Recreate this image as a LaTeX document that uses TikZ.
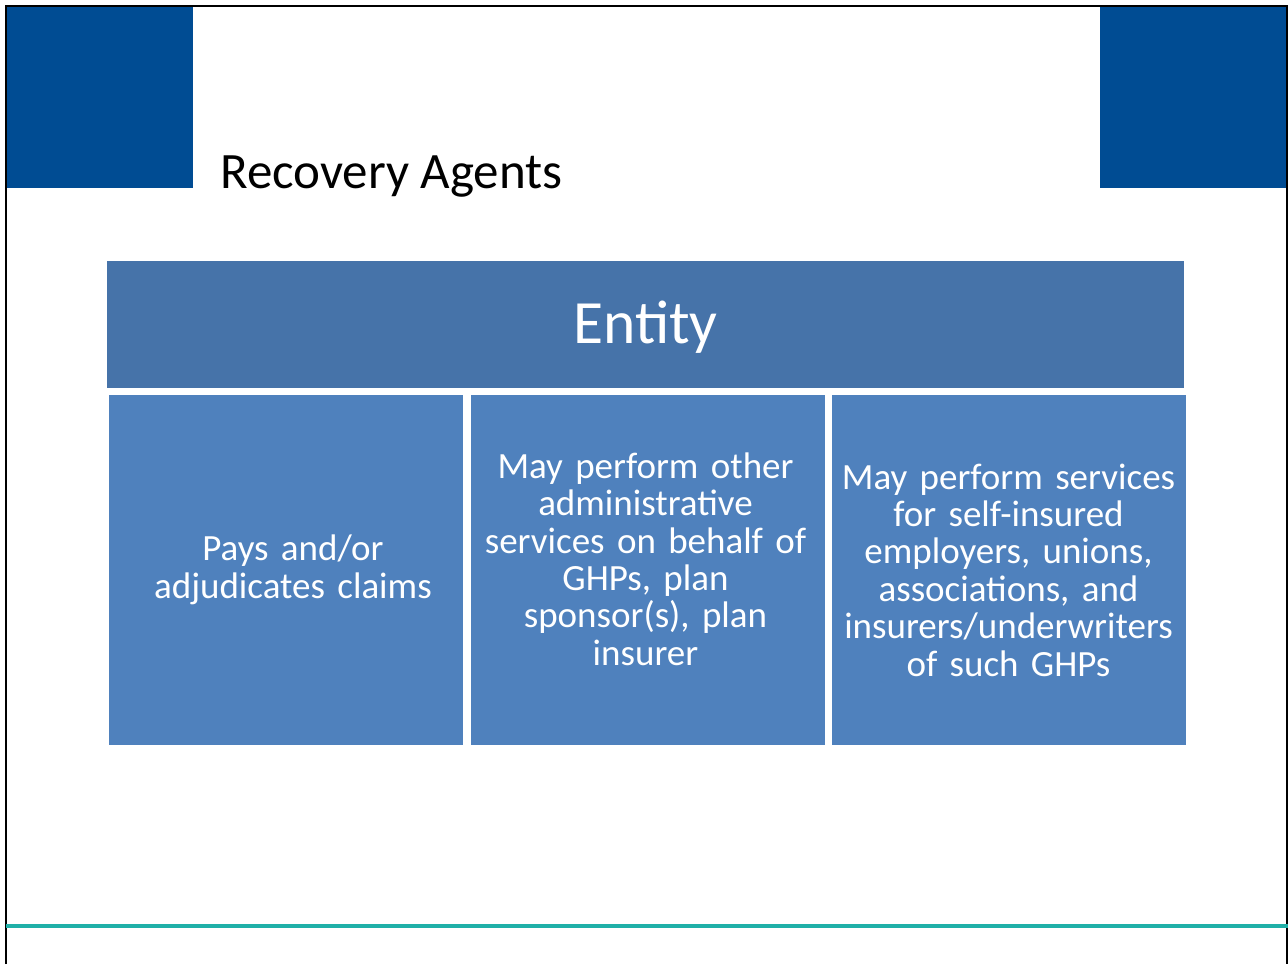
\documentclass[tikz,border=0pt]{standalone}
\usepackage{fontspec}
\setmainfont{Carlito}
\usepackage{tikz}
\usetikzlibrary{positioning}
\definecolor{cornerblue}{RGB}{0,76,147}
\definecolor{headblue}{RGB}{70,115,169}
\definecolor{cellblue}{RGB}{79,129,189}
\definecolor{rulecyan}{RGB}{32,176,168}

\begin{document}
\begin{tikzpicture}[x=1pt,y=-1pt,
				corner/.style={fill=cornerblue,draw=none},
				head/.style={fill=headblue,draw=none,minimum width=1077pt,minimum height=127pt,
					inner sep=0pt},
				cell/.style={fill=cellblue,draw=none,minimum width=354pt,minimum height=350pt,inner sep=0pt},
				celltext/.style={text=white,align=center,text width=340pt,inner sep=0pt,
					font=\fontsize{37}{37.4}\selectfont}]
				\useasboundingbox (0,0) rectangle (1288,964);
				\fill[white] (0,0) rectangle (1288,964);
				
				\fill[corner] (6,6) rectangle (193,188);
				\fill[corner] (1100,6) rectangle (1288,188);
				\draw[black,line width=2pt] (6,964) -- (6,6) -- (1287,6) -- (1287,964);
				
				\node[anchor=base west,font=\fontsize{51}{53}\selectfont,inner sep=0pt] (title) at (220,188) {Recovery Agents};
				
				\node[head] (entity) at (645.5,324.5) {};
				\node[text=white,font=\fontsize{61.5}{63}\selectfont,inner sep=0pt] (entitytxt)
					at ([yshift=-3pt]entity.center) {Entity};
				
				\node[cell] (pays) at (286,570) {};
				\node[cell] (admin) at (647.5,570) {};
				\node[cell] (self) at (1008.5,570) {};
				
				\node[celltext] (paystxt) at ([xshift=7pt]pays.center) {Pays and/or\\adjudicates claims};
				\node[celltext] (admintxt) at ([xshift=-2pt,yshift=11pt]admin.center) {May perform other\\administrative\\services on behalf of\\GHPs, plan\\sponsor(s), plan\\insurer};
				\node[celltext] (selftxt) at (self.center) {May perform services\\for self-insured\\employers, unions,\\associations, and\\insurers/underwriters\\of such GHPs};
				
				\draw[rulecyan,line width=4pt] (6,926) -- (1288,926);
			\end{tikzpicture}
\end{document}
